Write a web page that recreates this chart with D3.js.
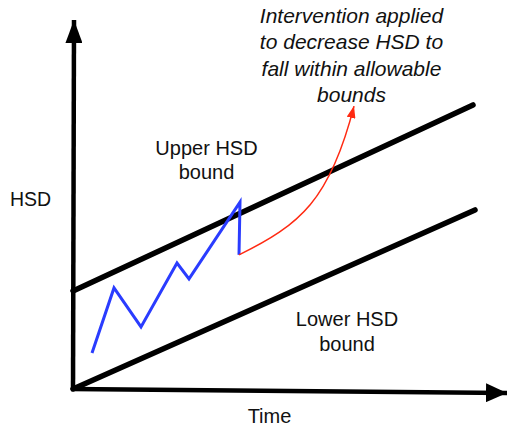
<!DOCTYPE html>
<html lang="en">
<head>
  <meta charset="UTF-8">
  <title>HSD bounds</title>
  <script src="https://d3js.org/d3.v7.min.js"></script>
  <style>
    body { margin: 0; background: #fff; }
    text { font-family: "Liberation Sans", Arial, Helvetica, sans-serif; fill: #111; }
  </style>
</head>
<body>
<div id="chart"></div>
<script>
// values in diagram units (time, HSD)
const upperBound = [[0, 3.27], [10, 9.47]];
const lowerBound = [[0, 0], [10.05, 5.97]];
const hsdSeries = [[0.475, 1.2], [1.025, 3.37], [1.7, 2.07], [2.6, 4.2], [2.9, 3.67], [4.175, 6.23], [4.15, 4.47]];
// intervention curve: start, control 1, control 2, end
const intervention = [[4.15, 4.47], [5.675, 5.47], [6.425, 6.3], [7.025, 9.43]];
const xAxisEnd = [10.85, -0.13];
const yAxisEnd = [0.025, 12.3];

const w = 507, h = 429;

const x = d3.scaleLinear().domain([0, 10]).range([73, 473]);
const y = d3.scaleLinear().domain([0, 10]).range([389, 89]);

const svg = d3.select("#chart").append("svg")
  .attr("width", w)
  .attr("height", h);

const defs = svg.append("defs");

function arrowMarker(id, len, half, color) {
  defs.append("marker")
    .attr("id", id)
    .attr("markerUnits", "userSpaceOnUse")
    .attr("viewBox", `0 ${-half} ${len} ${half * 2}`)
    .attr("refX", len)
    .attr("refY", 0)
    .attr("markerWidth", len)
    .attr("markerHeight", half * 2)
    .attr("orient", "auto")
    .append("path")
      .attr("d", `M0,${-half}L${len},0L0,${half}Z`)
      .attr("fill", color);
}
arrowMarker("arrowY", 23, 8.5, "#000");
arrowMarker("arrowX", 21, 9.5, "#000");
arrowMarker("arrowRed", 12, 4.5, "#ff2a12");

const line = d3.line().x(d => x(d[0])).y(d => y(d[1]));

// axes
svg.append("path")
  .attr("d", line([[0, -0.05], yAxisEnd]))
  .attr("stroke", "#000")
  .attr("stroke-width", 4.5)
  .attr("fill", "none")
  .attr("marker-end", "url(#arrowY)");

svg.append("path")
  .attr("d", line([[-0.05, 0], xAxisEnd]))
  .attr("stroke", "#000")
  .attr("stroke-width", 4.5)
  .attr("fill", "none")
  .attr("marker-end", "url(#arrowX)");

// bounds
svg.selectAll(".bound")
  .data([upperBound, lowerBound])
  .enter()
  .append("path")
    .attr("class", "bound")
    .attr("d", line)
    .attr("stroke", "#000")
    .attr("stroke-width", 5.5)
    .attr("stroke-linecap", "round")
    .attr("fill", "none");

// HSD trace
svg.append("path")
  .attr("d", line(hsdSeries))
  .attr("stroke", "#2a3cff")
  .attr("stroke-width", 3)
  .attr("stroke-linejoin", "miter")
  .attr("fill", "none");

// intervention arrow
const p = d3.path();
const pts = intervention.map(d => [x(d[0]), y(d[1])]);
p.moveTo(pts[0][0], pts[0][1]);
p.bezierCurveTo(pts[1][0], pts[1][1], pts[2][0], pts[2][1], pts[3][0], pts[3][1]);
svg.append("path")
  .attr("d", p.toString())
  .attr("stroke", "#ff2a12")
  .attr("stroke-width", 1.5)
  .attr("fill", "none")
  .attr("marker-end", "url(#arrowRed)");

// labels
svg.append("text")
  .attr("x", 10).attr("y", 206)
  .style("font-size", "19.5px")
  .text("HSD");

svg.append("text")
  .attr("x", 269.5).attr("y", 423)
  .attr("text-anchor", "middle")
  .style("font-size", "20px")
  .text("Time");

function block(lines, cx, y0, dy, size, italic) {
  const t = svg.append("text")
    .attr("text-anchor", "middle")
    .style("font-size", size + "px")
    .style("font-style", italic ? "italic" : "normal");
  lines.forEach((s, i) => {
    t.append("tspan").attr("x", cx).attr("y", y0 + i * dy).text(s);
  });
}

block(["Upper HSD", "bound"], 206.5, 155, 24, 20, false);
block(["Lower HSD", "bound"], 347, 326, 24.5, 20, false);
block(["Intervention applied", "to decrease HSD to", "fall within allowable", "bounds"], 351.5, 23, 26.3, 21, true);
</script>
</body>
</html>
